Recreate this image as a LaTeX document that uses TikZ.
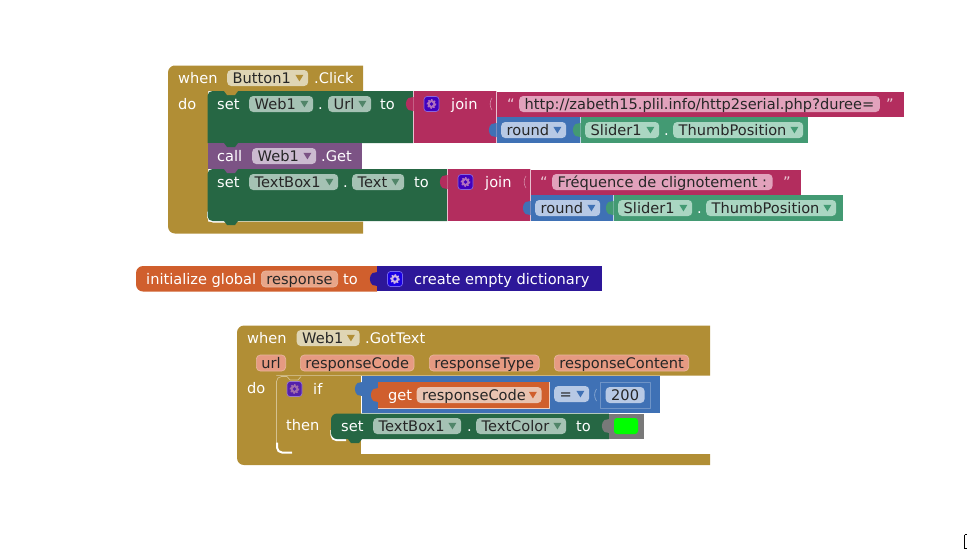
\documentclass[tikz,border=0pt]{standalone}
\usepackage{fontspec}
\setmainfont{DejaVu Sans}
\usetikzlibrary{calc}
\definecolor{Gold}{HTML}{B18E35}
\definecolor{Setgreen}{HTML}{266744}
\definecolor{Joinred}{HTML}{B32D5E}
\definecolor{Callpurple}{HTML}{7C5385}
\definecolor{Mathblue}{HTML}{3F71B5}
\definecolor{Sliderg}{HTML}{439A73}
\definecolor{Varorange}{HTML}{D05F2D}
\definecolor{Dictblue}{HTML}{2D1799}
\definecolor{Gfield}{HTML}{DFD5B4}
\definecolor{Sfield}{HTML}{A5C2B4}
\definecolor{Pfield}{HTML}{CBBAD0}
\definecolor{Rfield}{HTML}{E2A2BC}
\definecolor{Bfield}{HTML}{B7C9E5}
\definecolor{Lfield}{HTML}{AAD6C2}
\definecolor{Ofield}{HTML}{E8A588}
\definecolor{Ifield}{HTML}{E69A82}
\definecolor{Iedge}{HTML}{E8B69E}
\definecolor{Cfield}{HTML}{E9C3B0}
\tikzset{
  lab/.style={anchor=west,inner sep=0pt,text=white,text height=12pt,text depth=2pt,font=\fontsize{14.6}{16}\selectfont},
  fld/.style={anchor=west,inner xsep=5.5pt,inner ysep=0pt,rounded corners=4pt,text=black!85,align=left,text height=12pt,text depth=2pt,minimum height=16pt,font=\fontsize{14.6}{16}\selectfont},
  quot/.style={anchor=west,inner sep=0pt,text=white!75!Joinred,text height=12pt,text depth=2pt,font=\fontsize{14.6}{16}\selectfont},
  seam/.style={white!70!#1,line width=0.7pt},
}
% puzzle tab on the left side of a block
\newcommand{\tabL}[3]{\fill[#3] (#1+0.5,#2-7) -- (#1-4.5,#2-6) .. controls (#1-8,#2-3) and (#1-8,#2+3) .. (#1-4.5,#2+6) -- (#1+0.5,#2+7) -- cycle;}
% socket with no block in it
\newcommand{\socket}[3]{\draw[white!45!#3,line width=0.6pt] (#1-4,#2-6) .. controls (#1-6.5,#2-3) and (#1-6.5,#2+3) .. (#1-4,#2+6);}
% notch under a statement block
\newcommand{\notch}[3]{\fill[#3] (#1,#2) -- (#1+3,#2+4) -- (#1+11,#2+4) -- (#1+14,#2) -- cycle;}
% arrow of a dropdown field
\newcommand{\ddarrow}[2]{\fill[#2] ($(#1.east)+(-13,-3.2)$) -- ++(8,0) -- ++(-4,6.6) -- cycle;}
\newcommand{\gearicon}[3]{%
\fill[#3,draw=#3!60!white,line width=0.7pt,rounded corners=3pt] (#1-7.5,#2-7.5) rectangle (#1+7.5,#2+7.5);
\draw[white!88!#3,line width=1.5pt,dash pattern=on 1.5pt off 1.6pt] (#1,#2) circle (4.1);
\fill[white!88!#3] (#1,#2) circle (4.0);
\fill[#3] (#1,#2) circle (1.8);}
\newcommand{\hilite}[3]{\draw[white,line width=2pt,rounded corners=5pt] (#1,#2-10) -- (#1,#2) -- (#1+#3,#2);}
\begin{document}
\begin{tikzpicture}[x=1pt,y=-1pt,line cap=butt,line join=round]
\path[use as bounding box] (0,0) rectangle (973,557);
% first event block
\fill[Gold] (363,65.5) -- (363,91) -- (208,91) -- (208,221.5) -- (363,221.5) -- (363,233.5) -- (180,233.5) [rounded corners=7pt] -- (168,233.5) -- (168,65.5) -- (180,65.5) [sharp corners] -- cycle;
\hilite{208}{221.5}{18}
\fill[Setgreen] (413,91) -- (413,143) -- (207.5,143) [rounded corners=5pt] -- (207.5,91) -- (225,91) [sharp corners] -- cycle;
\fill[Joinred] (413,91) rectangle (496,143);
\fill[Callpurple] (207.5,143) rectangle (362,169);
\fill[Setgreen] (447,169) -- (447,221) -- (225,221) [rounded corners=5pt] -- (207.5,221) -- (207.5,169) [sharp corners] -- cycle;
\fill[Joinred] (447,169) rectangle (530,221);
\notch{224}{91}{Gold}
\notch{224}{143}{Setgreen}
\notch{224}{169}{Callpurple}
\notch{224}{221}{Setgreen}
\fill[Joinred] (496,91.5) rectangle (903.5,117);
\fill[Mathblue] (496,117) rectangle (580,143);
\fill[Sliderg] (580,117) rectangle (808,143);
\fill[Joinred] (530,169.5) rectangle (801,195);
\fill[Mathblue] (530,195) rectangle (613,221);
\fill[Sliderg] (613,195) rectangle (843,221);
\draw[seam=Joinred] (413.5,91) -- (413.5,143);
\draw[seam=Joinred] (447.5,169) -- (447.5,221);
\draw[seam=Joinred] (496.5,91) -- (496.5,143);
\draw[seam=Joinred] (530.5,169) -- (530.5,221);
\draw[seam=Mathblue] (580.5,117) -- (580.5,143);
\draw[seam=Mathblue] (613.5,195) -- (613.5,221);
\tabL{413}{104}{Joinred}
\tabL{447}{182}{Joinred}
\socket{496}{104}{Joinred}
\socket{530}{182}{Joinred}
\tabL{496}{130}{Mathblue}
\tabL{530}{208}{Mathblue}
\tabL{580}{130}{Sliderg}
\tabL{613}{208}{Sliderg}
\gearicon{431.5}{104}{blue!50!violet}
\gearicon{465.5}{182}{blue!50!violet}
\node[lab] (when1) at (178,78) {when};
\node[fld,fill=Gfield,text width=70pt] (button1) at (227,78) {Button1};
\ddarrow{button1}{Gold}
\node[lab] (click1) at (314,78) {.Click};
\node[lab] (do1) at (178,104) {do};
\node[lab] (set1) at (217,104) {set};
\node[fld,fill=Sfield,text width=53pt] (web1) at (249,104) {Web1};
\ddarrow{web1}{Setgreen!80!white}
\node[lab] (dot1) at (318,104) {.};
\node[fld,fill=Sfield,text width=32pt] (url1) at (328,104) {Url};
\ddarrow{url1}{Setgreen!80!white}
\node[lab] (to1) at (380,104) {to};
\node[lab] (join1) at (451,104) {join};
\node[quot] (qa1) at (507,104) {“};
\node[fld,fill=Rfield] (str1) at (519,104) {http://zabeth15.plil.info/http2serial.php?duree=};
\node[quot] (qb1) at (886,104) {”};
\node[fld,fill=Bfield,text width=54pt] (round1) at (501,130) {round};
\ddarrow{round1}{Mathblue}
\node[fld,fill=Lfield,text width=63pt] (slider1) at (585,130) {Slider1};
\ddarrow{slider1}{Sliderg}
\node[lab] (dot2) at (664,130) {.};
\node[fld,fill=Lfield,text width=119pt] (thumb1) at (673,130) {ThumbPosition};
\ddarrow{thumb1}{Sliderg}
\node[lab] (call1) at (217,156) {call};
\node[fld,fill=Pfield,text width=53pt] (web2) at (252,156) {Web1};
\ddarrow{web2}{Callpurple}
\node[lab] (get1) at (321,156) {.Get};
\node[lab] (set2) at (217,182) {set};
\node[fld,fill=Sfield,text width=78pt] (textbox1) at (249,182) {TextBox1};
\ddarrow{textbox1}{Setgreen!80!white}
\node[lab] (dot3) at (343,182) {.};
\node[fld,fill=Sfield,text width=41pt] (text1) at (352,182) {Text};
\ddarrow{text1}{Setgreen!80!white}
\node[lab] (to2) at (414,182) {to};
\node[lab] (join2) at (485,182) {join};
\node[quot] (qa2) at (540,182) {“};
\node[fld,fill=Rfield] (str2) at (552,182) {Fréquence de clignotement :};
\node[quot] (qb2) at (783,182) {”};
\node[fld,fill=Bfield,text width=54pt] (round2) at (535,208) {round};
\ddarrow{round2}{Mathblue}
\node[fld,fill=Lfield,text width=63pt] (slider2) at (618,208) {Slider1};
\ddarrow{slider2}{Sliderg}
\node[lab] (dot4) at (697,208) {.};
\node[fld,fill=Lfield,text width=119pt] (thumb2) at (706,208) {ThumbPosition};
\ddarrow{thumb2}{Sliderg}
% global variable
\fill[Varorange] (377,266) -- (377,291.5) -- (150,291.5) [rounded corners=7pt] -- (136,291.5) -- (136,266) -- (150,266) [sharp corners] -- cycle;
\fill[Dictblue] (377,266) rectangle (601.5,291);
\tabL{377}{279}{Dictblue}
\gearicon{395}{279}{blue!80!violet}
\node[lab] (init1) at (146,279) {initialize global};
\node[fld,fill=Ofield,draw=Iedge,line width=0.7pt,inner xsep=5pt] (resp1) at (261,279) {response};
\node[lab] (to3) at (343,279) {to};
\node[lab] (dict1) at (414,279) {create empty dictionary};
% second event block
\fill[Gold] (710,325.5) -- (710,375.5) -- (276,375.5) -- (276,454) -- (710,454) -- (710,465) -- (250,465) [rounded corners=7pt] -- (237,465) -- (237,325.5) -- (250,325.5) [sharp corners] -- cycle;
\fill[Gold] (276,375.5) rectangle (360.5,454);
\draw[white!45!Gold,line width=0.7pt,rounded corners=5pt] (276.5,445) -- (276.5,376.5) -- (287,376.5);
\draw[white!45!Gold,line width=0.7pt] (287,376.5) -- (290,380) -- (298,380) -- (301,376.5);
\hilite{277}{452.5}{15}
\notch{292}{451.5}{Gold}
\fill[Mathblue] (361.5,376) rectangle (660,412.8);
\draw[white!25!Mathblue,line width=0.6pt] (600.5,382) rectangle (650,408);
\fill[Varorange] (378,382) rectangle (549,408);
\draw[white!70!Varorange,line width=0.6pt] (549,382) -- (549,408) -- (378,408);
\tabL{362}{389}{Mathblue}
\tabL{378}{395}{Varorange}
\socket{600.5}{395}{Mathblue}
\draw[white,line width=2.2pt,rounded corners=5pt] (331.5,430) -- (331.5,440) -- (346,440);
\fill[Setgreen] (609,413.5) -- (609,439) -- (345,439) [rounded corners=6pt] -- (331,439) -- (331,413.5) -- (345,413.5) [sharp corners] -- cycle;
\notch{348}{439}{Setgreen}
\fill[gray!95!black] (609,413.5) rectangle (644,439);
\tabL{609}{426}{gray!95!black}
\fill[green,rounded corners=3pt] (614,418) rectangle (638,434);
\gearicon{294.5}{389}{blue!45!violet!75!gray}
\node[lab] (when2) at (247,338) {when};
\node[fld,fill=Gfield,text width=52pt] (web3) at (296.5,338) {Web1};
\ddarrow{web3}{Gold}
\node[lab] (gottext) at (365,338) {.GotText};
\node[fld,fill=Ifield,draw=Iedge,line width=0.7pt,inner xsep=5pt] (url2) at (256,363) {url};
\node[fld,fill=Ifield,draw=Iedge,line width=0.7pt,inner xsep=5pt] (rcode) at (300,363) {responseCode};
\node[fld,fill=Ifield,draw=Iedge,line width=0.7pt,inner xsep=5pt] (rtype) at (429,363) {responseType};
\node[fld,fill=Ifield,draw=Iedge,line width=0.7pt,inner xsep=5pt] (rcontent) at (554,363) {responseContent};
\node[lab] (do2) at (247,388) {do};
\node[lab] (if1) at (313,389) {if};
\node[lab] (then1) at (286,425) {then};
\node[lab] (get2) at (388,395) {get};
\node[fld,fill=Cfield,text width=114pt] (rcode2) at (416.5,395) {responseCode};
\ddarrow{rcode2}{Varorange}
\node[fld,fill=Bfield,text width=24pt] (eq1) at (554,394) {=};
\ddarrow{eq1}{Mathblue}
\node[fld,fill=Bfield] (num1) at (605.5,395) {200};
\node[lab] (set3) at (341,426) {set};
\node[fld,fill=Sfield,text width=77pt] (textbox2) at (373,426) {TextBox1};
\ddarrow{textbox2}{Setgreen!80!white}
\node[lab] (dot5) at (467,426) {.};
\node[fld,fill=Sfield,text width=79pt] (color1) at (476,426) {TextColor};
\ddarrow{color1}{Setgreen!80!white}
\node[lab] (to4) at (576,426) {to};
% cursor at the edge of the screenshot
\draw[black,line width=1.2pt] (964.5,534.5) -- (964.5,548.5);
\draw[black,line width=0.7pt] (964.5,534.5) -- (966.5,534.5);
\draw[black,line width=0.7pt] (964.5,548.5) -- (966.5,548.5);
\end{tikzpicture}
\end{document}
